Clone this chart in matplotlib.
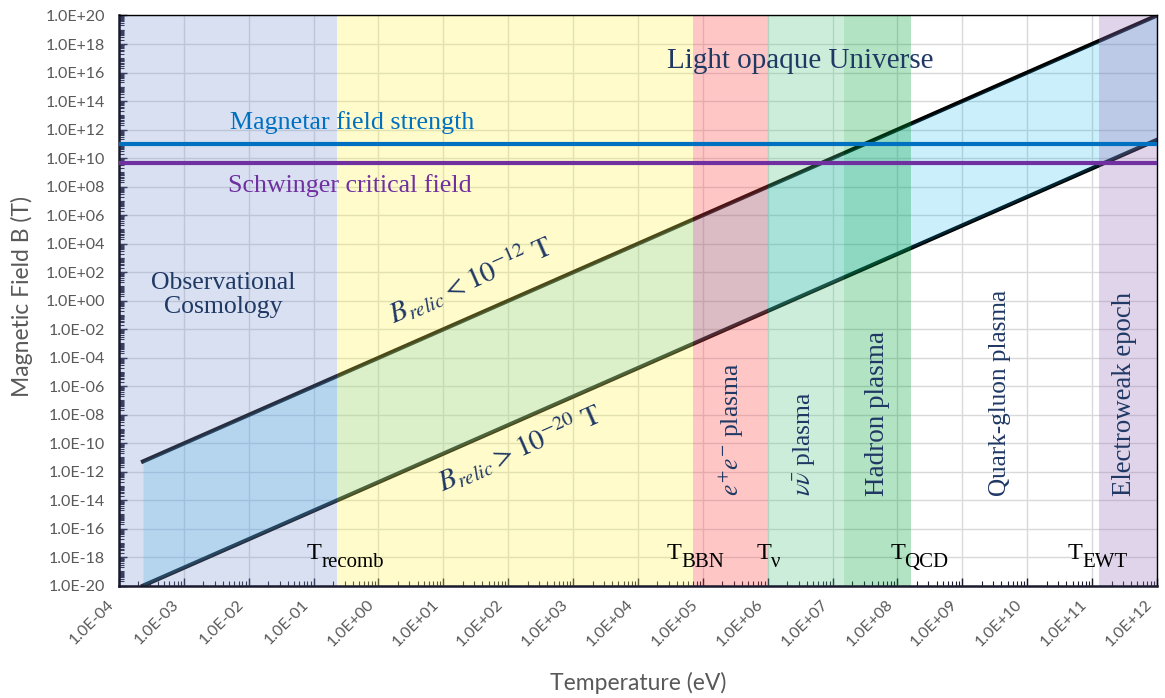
import math
import numpy as np
import matplotlib
matplotlib.use("Agg")
import matplotlib.pyplot as plt
from matplotlib.ticker import LogLocator, FixedLocator, FuncFormatter, NullFormatter
from matplotlib.transforms import ScaledTranslation

plt.rcParams['mathtext.fontset'] = 'stix'

# Relic field band (T in eV, B in T), B ~ T^2
T_line = [2.35e-4, 1e12]
B_upper = [5.2e-12, 1e20]
B_lower = [1e-20, 1.9e11]

B_magnetar = 1e11
B_schwinger = 4.4e9

# Epoch bands
band_edges = [1e-4, 0.23, 7e4, 1e6, 1.5e7, 1.6e8, 1.3e11, 1e12]
band_colors = ['#8099d4', '#fff555', '#ff4444', '#55c687', '#00a53a', None, '#9873b9']

epoch_labels = [r'$e^{+}e^{-}$ plasma', r'$\nu\bar{\nu}$ plasma', 'Hadron plasma',
                'Quark-gluon plasma', 'Electroweak epoch']
epoch_label_x = [0.590, 0.661, 0.731, 0.849, 0.969]
epoch_label_size = [18.4, 18.4, 19.5, 18.2, 19.3]

temp_main = ['T', 'T', 'T', 'T', 'T']
temp_sub = ['recomb', 'BBN', 'ν', 'QCD', 'EWT']
temp_label_x = [0.181, 0.528, 0.614, 0.743, 0.914]

navy = '#1f3864'
gray = '#595959'
serif = 'Liberation Serif'
sans = 'Lato'

fig, ax = plt.subplots(figsize=(11.65, 6.98), dpi=100)
fig.subplots_adjust(left=0.1021, right=0.9931, top=0.9778, bottom=0.1609)
ax.set_xscale('log')
ax.set_yscale('log')
ax.set_xlim(1e-4, 1e12)
ax.set_ylim(1e-20, 1e20)

# grid under everything
ax.set_axisbelow(True)
ax.grid(which='major', color='#d9d9d9', lw=1.0)

# relic lines + fill, then translucent epoch bands on top
ax.plot(T_line, B_upper, color='black', lw=3, zorder=1)
ax.plot(T_line, B_lower, color='black', lw=3, zorder=1)
ax.fill_between(T_line, B_lower, B_upper, color='#00b0f0', alpha=0.2, lw=0, zorder=1.5)

for i, c in enumerate(band_colors):
    if c is None:
        continue
    ax.axvspan(band_edges[i], band_edges[i + 1], color=c, alpha=0.3, lw=0, zorder=2)

ax.axhline(B_magnetar, color='#0070c0', lw=3, zorder=3)
ax.axhline(B_schwinger, color='#7030a0', lw=3, zorder=3)

# ticks
ax.xaxis.set_major_locator(LogLocator(base=10, numticks=40))
ax.xaxis.set_minor_locator(LogLocator(base=10, subs=np.arange(2, 10), numticks=40))
ax.yaxis.set_major_locator(FixedLocator(10.0 ** np.arange(-20, 21, 2)))
ax.yaxis.set_minor_locator(LogLocator(base=10, subs=np.arange(1, 10), numticks=100))
fmt = FuncFormatter(lambda v, p: f"{v:.1E}")
ax.xaxis.set_major_formatter(fmt)
ax.yaxis.set_major_formatter(fmt)
ax.xaxis.set_minor_formatter(NullFormatter())
ax.yaxis.set_minor_formatter(NullFormatter())
ax.tick_params(which='major', direction='in', length=6, width=1, color='#1a1a2e',
               labelcolor=gray, labelsize=11.5)
ax.tick_params(which='minor', direction='in', length=3.5, width=0.8, color='#1a1a2e')
ax.tick_params(axis='y', pad=10)
ax.tick_params(axis='x', pad=12)
for lbl in ax.get_xticklabels():
    lbl.set_fontfamily(sans)
    lbl.set_rotation(45)
    lbl.set_ha('right')
    lbl.set_va('center')
    lbl.set_rotation_mode('anchor')
    lbl.set_transform(lbl.get_transform() + ScaledTranslation(-5 / 72, 0, fig.dpi_scale_trans))
for lbl in ax.get_yticklabels():
    lbl.set_fontfamily(sans)

for s in ['left', 'bottom']:
    ax.spines[s].set_linewidth(1.8)
    ax.spines[s].set_color('#1a1a2e')
for s in ['top', 'right']:
    ax.spines[s].set_linewidth(1.0)
    ax.spines[s].set_color('black')

fig.text(0.0189, 0.5745, 'Magnetic Field B (T)', rotation=90, ha='center', va='center',
         color=gray, fontsize=16.5, family=sans)
fig.text(0.5476, 0.0215, 'Temperature (eV)', ha='center', va='center',
         color=gray, fontsize=16.5, family=sans)

# annotations
ax.text(0.6565, 0.9205, 'Light opaque Universe', transform=ax.transAxes, ha='center', va='center',
        color=navy, fontsize=21, family=serif, zorder=4)
ax.text(0.2245, 0.812, 'Magnetar field strength', transform=ax.transAxes, ha='center', va='center',
        color='#0070c0', fontsize=18.7, family=serif, zorder=4)
ax.text(0.2225, 0.701, 'Schwinger critical field', transform=ax.transAxes, ha='center', va='center',
        color='#7030a0', fontsize=18.7, family=serif, zorder=4)
ax.text(0.1007, 0.51, 'Observational\nCosmology', transform=ax.transAxes, ha='center', va='center',
        color=navy, fontsize=18.5, family=serif, linespacing=1.1, zorder=4)

p1 = ax.transData.transform((T_line[0], B_upper[0]))
p2 = ax.transData.transform((T_line[1], B_upper[1]))
ang = math.degrees(math.atan2(p2[1] - p1[1], p2[0] - p1[0]))
ax.text(0.338, 0.536, r'$B_{relic} < 10^{-12}\ \mathrm{T}$', transform=ax.transAxes,
        ha='center', va='center', rotation=ang, rotation_mode='anchor',
        color=navy, fontsize=21, zorder=4)
ax.text(0.386, 0.2416, r'$B_{relic} > 10^{-20}\ \mathrm{T}$', transform=ax.transAxes,
        ha='center', va='center', rotation=ang, rotation_mode='anchor',
        color=navy, fontsize=21, zorder=4)

for x, lab, fs in zip(epoch_label_x, epoch_labels, epoch_label_size):
    ax.text(x, 0.157, lab, transform=ax.transAxes, rotation=90, ha='center', va='bottom',
            color=navy, fontsize=fs, family=serif, zorder=4)

# T labels: big T plus a hand-placed subscript
for x, main, sub in zip(temp_label_x, temp_main, temp_sub):
    ax.text(x, 0.047, main, transform=ax.transAxes, ha='left', va='baseline',
            color='black', fontsize=17.5, family=serif, zorder=4)
    ax.annotate(sub, xy=(x, 0.047), xycoords='axes fraction', xytext=(10.3, -5.5),
                textcoords='offset points', ha='left', va='baseline',
                color='black', fontsize=15, family=serif, zorder=4)

fig.savefig('out.png', dpi=100)
